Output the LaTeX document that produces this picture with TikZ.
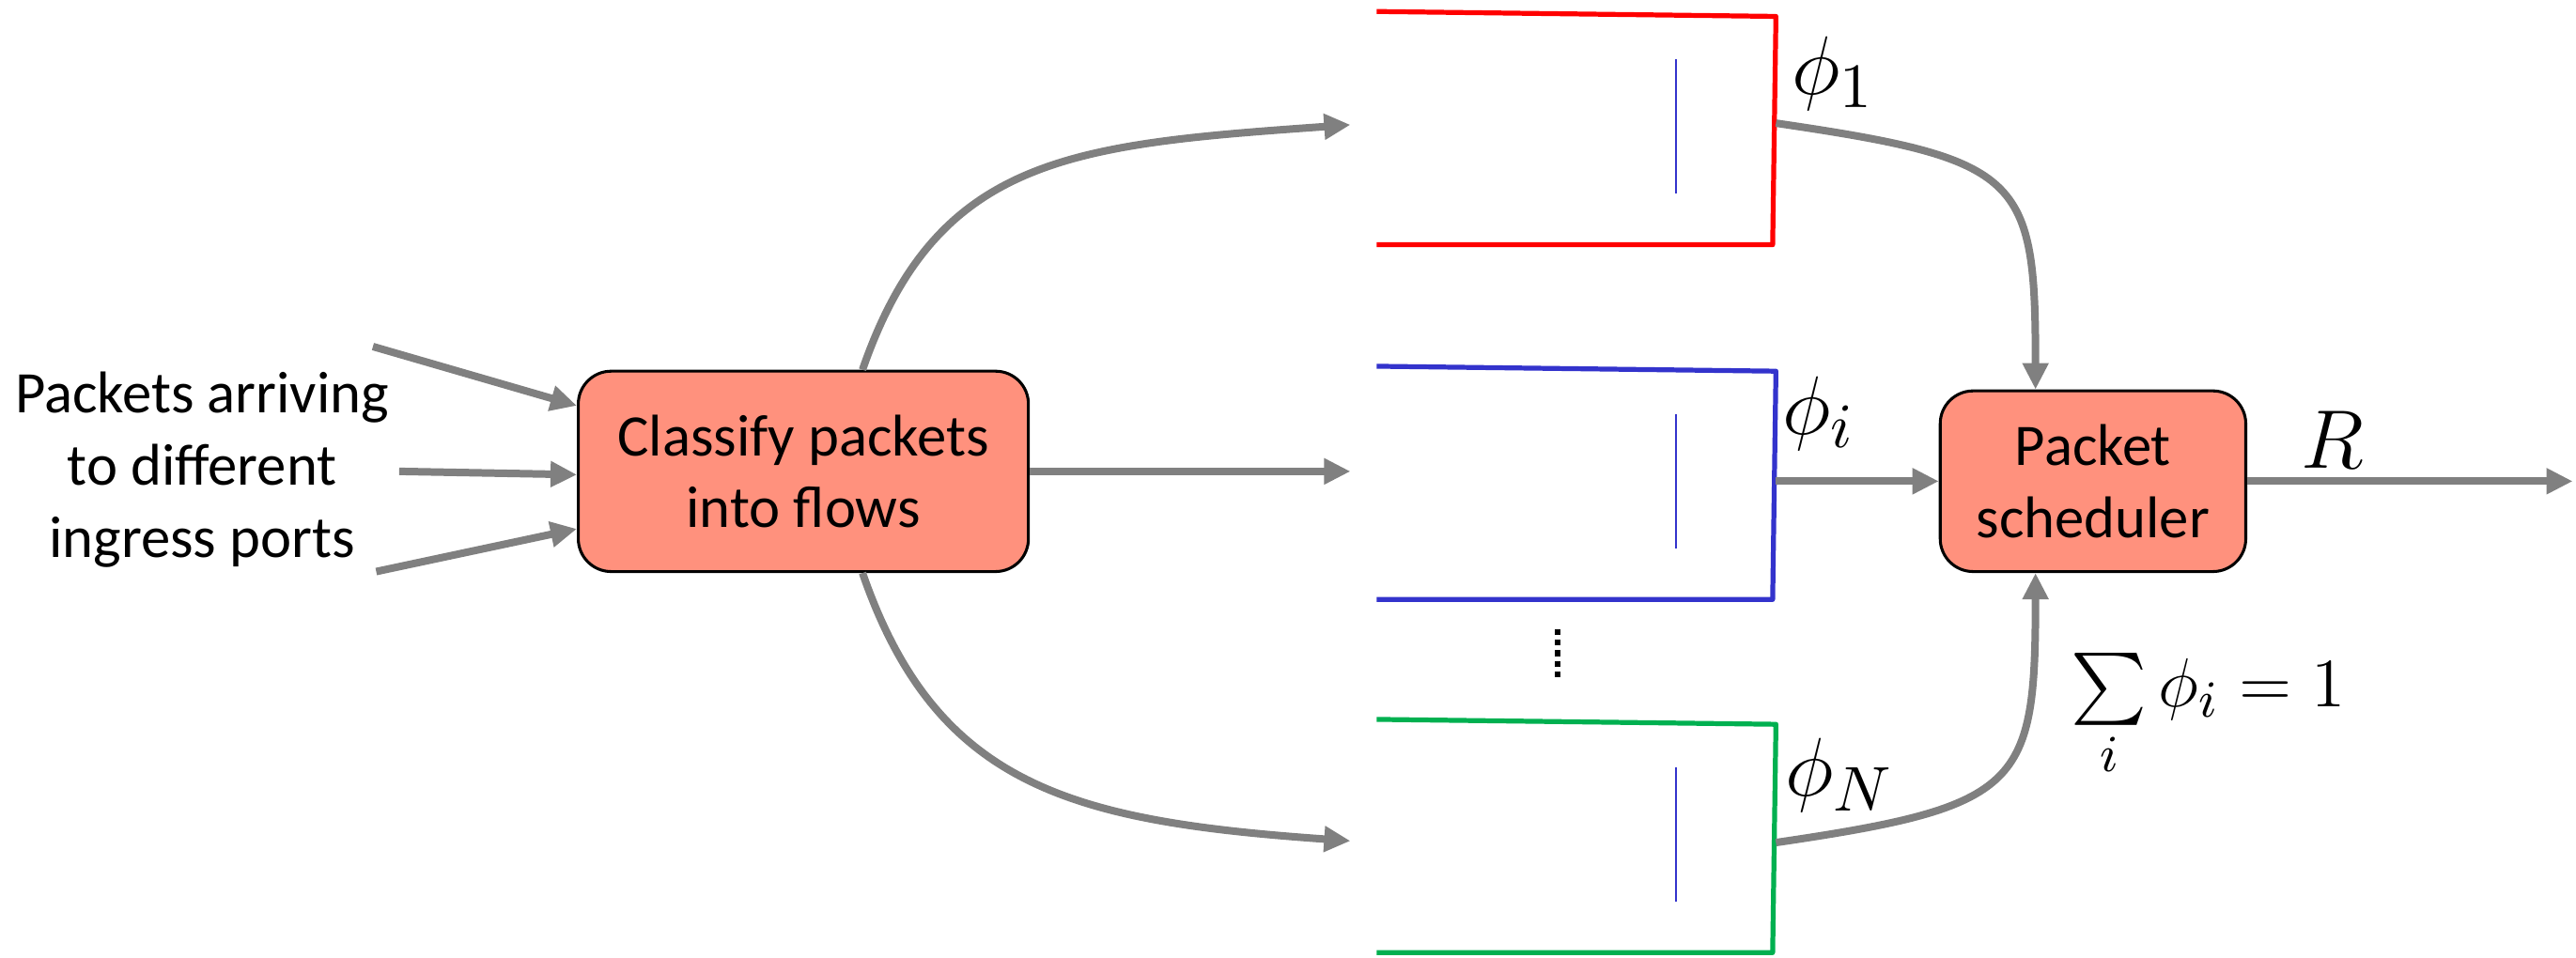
\documentclass[tikz,border=0pt]{standalone}
\usepackage{amsmath,amssymb}
\usepackage{fontspec}
\setmainfont{Carlito}
\usepackage{tikz}
\usetikzlibrary{arrows.meta,positioning}

\definecolor{boxfill}{RGB}{255,145,125}
\definecolor{flowgray}{RGB}{128,128,128}
\definecolor{qred}{RGB}{255,0,0}
\definecolor{qblue}{RGB}{51,51,204}
\definecolor{qgreen}{RGB}{0,176,80}

\begin{document}
\begin{tikzpicture}
	[
		x=0.1mm, y=-0.1mm,
		align=center,
		font=\fontsize{10.2}{12.5}\selectfont,
		block/.style={draw=black, line width=0.5pt, fill=boxfill, rounded corners=2mm, inner sep=0pt},
		wlabel/.style={draw=none, fill=none, font=\fontsize{15}{17}\selectfont},
		arrow/.style={-{Triangle[length=1.6mm,width=1.5mm]}, line width=1.3pt, draw=flowgray},
		queue/.style={line width=0.85pt, line join=round},
		slot/.style={draw=qblue, line width=0.35pt}
	]

	\useasboundingbox (0,0) rectangle (1568,583);

	% blocks
	\node[block, minimum width=27.4mm, minimum height=12.2mm] (cls) at (489,287) {Classify packets\\into flows};
	\node[block, minimum width=18.6mm, minimum height=11mm] (sch) at (1274,293) {Packet\\scheduler};
	\node (src) at (123,286) {Packets arriving\\to different\\ingress ports};

	% free ends
	\coordinate (in1) at (227,211);
	\coordinate (in2) at (243,287);
	\coordinate (in3) at (229,348);
	\coordinate (out) at (1566,293);

	% queues
	\foreach \i/\col/\y/\a/\b in {1/qred/7/76/75, 2/qblue/223/287/293, 3/qgreen/438/512/513} {
		\draw[queue, draw=\col] (838,\y) -- (1081,\y+3) -- (1079,\y+142) -- (838,\y+142);
		\draw[slot] (1020,\y+29) -- (1020,\y+111);
		\coordinate (q\i in) at (822,\a);
		\coordinate (q\i out) at (1081,\b);
	}
	\draw[line width=0.35mm, dash pattern=on 0.35mm off 0.3mm] (948,383) -- (948,413);

	% weight labels
	\node[wlabel] (w1) at (1116,45) {$\phi_1$};
	\node[wlabel] (wi) at (1107,252) {$\phi_i$};
	\node[wlabel] (wn) at (1120,472) {$\phi_N$};
	\node[wlabel] (rate) at (1420,268) {$R$};
	\node[wlabel, font=\fontsize{12.5}{15}\selectfont] (sum) at (1344,436) {$\sum\limits_i \phi_i = 1$};

	% flow paths
	\draw[arrow] (in1) -- ([yshift=4mm]cls.west);
	\draw[arrow] (in2) -- ([yshift=-0.2mm]cls.west);
	\draw[arrow] (in3) -- ([yshift=-3.5mm]cls.west);
	\draw[arrow] (cls.east) -- (q2in);
	\draw[arrow] ([xshift=3.6mm]cls.north) .. controls +(45,-130) and +(-170,12) .. (q1in);
	\draw[arrow] ([xshift=3.6mm]cls.south) .. controls +(45,130) and +(-170,-12) .. (q3in);

	\draw[arrow] (q1out) .. controls +(150,22) and +(0,-130) .. ([xshift=-3.5mm]sch.north);
	\draw[arrow] (q2out) -- (sch.west);
	\draw[arrow] (q3out) .. controls +(150,-22) and +(0,130) .. ([xshift=-3.5mm]sch.south);
	\draw[arrow] (sch.east) -- (out);

\end{tikzpicture}
\end{document}
